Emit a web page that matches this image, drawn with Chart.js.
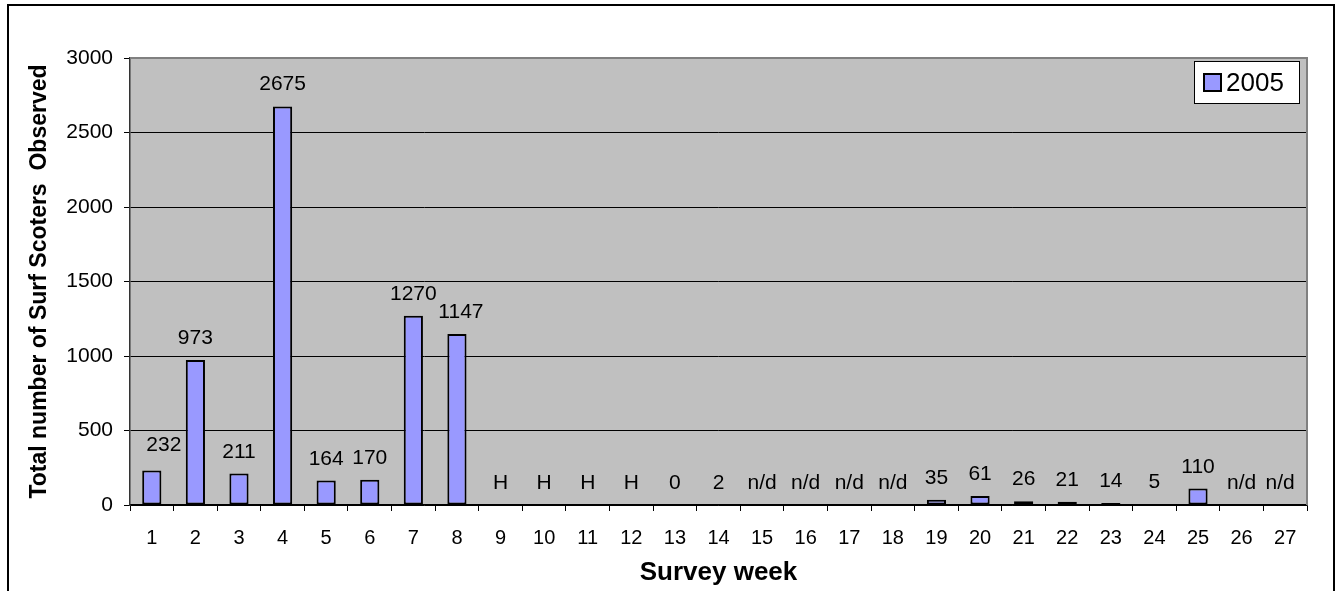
<!DOCTYPE html>
<html>
<head>
<meta charset="utf-8">
<title>Surf Scoters by survey week</title>
<script src="https://cdn.jsdelivr.net/npm/chart.js@4.4.1/dist/chart.umd.min.js"></script>
<style>
  html, body { margin: 0; padding: 0; background: #ffffff; }
  #wrap { width: 1339px; height: 591px; position: relative; }
</style>
</head>
<body>
<div id="wrap"><canvas id="chart" width="1339" height="591"></canvas></div>
<script>
// Survey weeks along the x axis
const weeks = ['1','2','3','4','5','6','7','8','9','10','11','12','13','14',
               '15','16','17','18','19','20','21','22','23','24','25','26','27'];

// Surf Scoters counted per week in 2005 (null = no count)
const counts2005 = [232, 973, 211, 2675, 164, 170, 1270, 1147,
                    null, null, null, null, 0, 2,
                    null, null, null, null, 35, 61, 26, 21, 14, 5, 110,
                    null, null];

// Text shown for weeks without a count
const weekNotes = [null, null, null, null, null, null, null, null,
                   'H', 'H', 'H', 'H', null, null,
                   'n/d', 'n/d', 'n/d', 'n/d', null, null, null, null, null, null, null,
                   'n/d', 'n/d'];

const yMin = 0, yMax = 3000, yStep = 500;

const FONT = '"Liberation Sans", Arial, Helvetica, sans-serif';
const BAR_FILL = '#9999FF';
const PLOT_FILL = '#C0C0C0';
const FRAME_GREY = '#808080';

// Hand-placed data labels (pixel nudges by week index)
const LABEL_NUDGE = { 0: [12, -3], 7: [4, 0], 26: [-5, 0] };

// Grey plot background, its frame, and the outer chart border
const plotBackground = {
  id: 'plotBackground',
  beforeDraw(chart) {
    const { ctx, chartArea: a } = chart;
    ctx.save();
    ctx.fillStyle = PLOT_FILL;
    ctx.fillRect(a.left, a.top, a.right - a.left, a.bottom - a.top);
    // outer border of the chart object
    ctx.strokeStyle = '#000000';
    ctx.lineWidth = 2;
    ctx.strokeRect(8, 5, 1326, 620);
    ctx.restore();
  },
  afterDatasetsDraw(chart) {
    const { ctx, chartArea: a } = chart;
    ctx.save();
    ctx.strokeStyle = FRAME_GREY;
    ctx.lineWidth = 2;
    ctx.beginPath();
    ctx.moveTo(a.left, a.top);
    ctx.lineTo(a.right, a.top);
    ctx.lineTo(a.right, a.bottom);
    ctx.stroke();
    ctx.restore();
  }
};

// Count (or note) written above each week's bar
const barLabels = {
  id: 'barLabels',
  afterDatasetsDraw(chart) {
    const { ctx } = chart;
    const xs = chart.scales.x, ys = chart.scales.y;
    const values = chart.data.datasets[0].data;
    ctx.save();
    ctx.fillStyle = '#000000';
    ctx.font = '21px ' + FONT;
    ctx.textAlign = 'center';
    ctx.textBaseline = 'alphabetic';
    values.forEach((v, i) => {
      const text = v !== null ? String(v) : weekNotes[i];
      if (!text) return;
      const [dx, dy] = LABEL_NUDGE[i] || [0, 0];
      const x = xs.getPixelForValue(i) + dx;
      const y = ys.getPixelForValue(v !== null ? v : 0) - 16 + dy;
      ctx.fillText(text, x, y);
    });
    ctx.restore();
  }
};

// Boxed legend in the upper right of the plot
const boxedLegend = {
  id: 'boxedLegend',
  afterDraw(chart) {
    const { ctx } = chart;
    const ds = chart.data.datasets[0];
    const bx = 1194, by = 61, bw = 105, bh = 42;
    ctx.save();
    ctx.fillStyle = '#ffffff';
    ctx.fillRect(bx, by, bw, bh);
    ctx.strokeStyle = '#000000';
    ctx.lineWidth = 1;
    ctx.strokeRect(bx + 0.5, by + 0.5, bw, bh);
    ctx.fillStyle = ds.backgroundColor;
    ctx.fillRect(bx + 10, by + 13, 17, 17);
    ctx.lineWidth = 2;
    ctx.strokeRect(bx + 10, by + 13, 17, 17);
    ctx.fillStyle = '#000000';
    ctx.font = '26px ' + FONT;
    ctx.textAlign = 'left';
    ctx.textBaseline = 'middle';
    ctx.fillText(ds.label, bx + 32, by + 23);
    ctx.restore();
  }
};

new Chart(document.getElementById('chart'), {
  type: 'bar',
  data: {
    labels: weeks,
    datasets: [{
      label: '2005',
      data: counts2005,
      backgroundColor: BAR_FILL,
      borderColor: '#000000',
      borderWidth: 2,
      borderSkipped: false,
      categoryPercentage: 1.0,
      barPercentage: 0.44
    }]
  },
  options: {
    responsive: false,
    animation: false,
    events: [],
    layout: { padding: { left: 0, top: 58, right: 32, bottom: 0 } },
    plugins: {
      legend: { display: false },
      tooltip: { enabled: false }
    },
    scales: {
      x: {
        offset: true,
        afterFit(scale) { scale.height = 86; },
        grid: {
          offset: true,
          drawOnChartArea: false,
          drawTicks: true,
          tickLength: 6,
          tickColor: '#000000',
          tickWidth: 1
        },
        border: { display: true, color: '#000000', width: 1.5 },
        ticks: {
          color: '#000000',
          font: { family: FONT, size: 20 },
          padding: 15,
          maxRotation: 0,
          autoSkip: false
        },
        title: {
          display: true,
          text: 'Survey week',
          color: '#000000',
          font: { family: FONT, size: 26, weight: 'bold' },
          padding: { top: 0, bottom: 3 }
        }
      },
      y: {
        min: yMin,
        max: yMax,
        afterFit(scale) { scale.width = 130; },
        grid: {
          color: ctx => (ctx.tick && ctx.tick.value === yMax) ? FRAME_GREY : '#000000',
          lineWidth: 1,
          drawTicks: true,
          tickLength: 6,
          tickColor: '#000000'
        },
        border: { display: true, color: '#333333', width: 1.5 },
        ticks: {
          stepSize: yStep,
          color: '#000000',
          font: { family: FONT, size: 21 },
          padding: 11,
          callback: v => String(v)
        },
        title: {
          display: true,
          text: 'Total number of Surf Scoters  Observed',
          color: '#000000',
          font: { family: FONT, size: 23, weight: 'bold' },
          padding: { top: 26, bottom: 0 }
        }
      }
    }
  },
  plugins: [plotBackground, barLabels, boxedLegend]
});
</script>
</body>
</html>
